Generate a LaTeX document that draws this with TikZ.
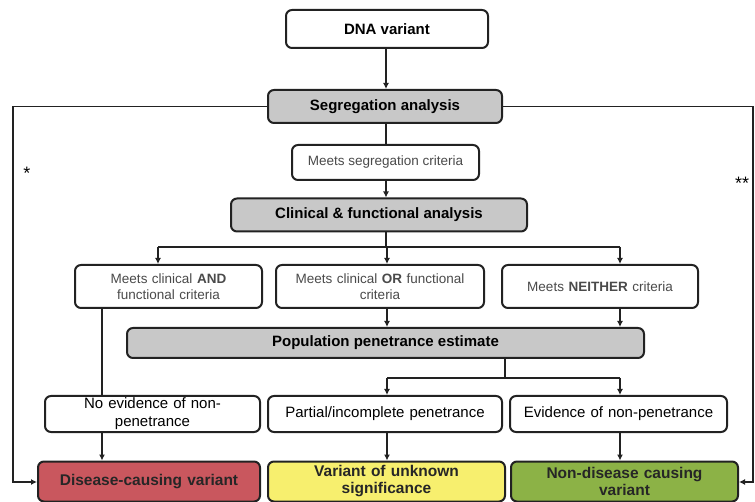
\documentclass[tikz,border=0pt]{standalone}
\usepackage{fontspec}
\setmainfont{Liberation Sans}
\usetikzlibrary{arrows.meta}
\definecolor{boxgray}{HTML}{C8C8C8}
\definecolor{vred}{HTML}{C9575E}
\definecolor{vyellow}{HTML}{F7EF6E}
\definecolor{vgreen}{HTML}{8CB246}
\definecolor{txtgray}{HTML}{4A4A4A}
\definecolor{linec}{HTML}{222222}
\tikzset{
  base/.style={draw=linec, line width=2pt, rounded corners=6pt, inner sep=0pt, align=center},
  bigbox/.style={base, fill=boxgray, font=\fontsize{15}{17}\selectfont\bfseries},
  topbox/.style={base, fill=white, font=\fontsize{15}{17}\selectfont\bfseries},
  smallbox/.style={base, fill=white, text=txtgray, font=\fontsize{13.5}{16}\selectfont},
  penbox/.style={base, fill=white, font=\fontsize{15}{18}\selectfont},
  outbox/.style={base, font=\fontsize{15.5}{17}\selectfont\bfseries, text=black!85},
  conn/.style={draw=linec, line width=1.8pt},
  arr/.style={conn, -{Latex[length=6pt,width=6pt]}},
}
\begin{document}
\begin{tikzpicture}[x=1pt,y=-1pt]
\useasboundingbox (0,0) rectangle (755,502);
% top chain
\node[topbox, minimum width=202, minimum height=38] (dna) at (387,29) {DNA variant};
\node[bigbox, minimum width=234, minimum height=33] (seg) at (385,106.5) {Segregation analysis};
\node[smallbox, minimum width=187, minimum height=35] (mseg) at (385.5,162.5) {Meets segregation criteria};
\node[bigbox, minimum width=296, minimum height=33] (clin) at (379,215) {Clinical \& functional analysis};
% criteria row
\node[smallbox, minimum width=187, minimum height=43, text width=180] (c1) at (168.5,286.5) {Meets clinical \textbf{AND}\\functional criteria};
\node[smallbox, minimum width=208, minimum height=43, text width=200] (c2) at (380,286.5) {Meets clinical \textbf{OR} functional\\criteria};
\node[smallbox, minimum width=196, minimum height=43, text width=190] (c3) at (600,286.5) {Meets \textbf{NEITHER} criteria};
% population
\node[bigbox, minimum width=517, minimum height=30] (pop) at (385.5,343) {Population penetrance estimate};
% penetrance row
\node[penbox, minimum width=215, minimum height=36, text width=205] (p1) at (152.5,414) {No evidence of non-\\penetrance};
\node[penbox, minimum width=234, minimum height=36, text width=228] (p2) at (385,414) {Partial/incomplete penetrance};
\node[penbox, minimum width=217, minimum height=36, text width=212] (p3) at (618.5,414) {Evidence of non-penetrance};
% outcomes
\node[outbox, fill=vred, minimum width=222, minimum height=40, text width=215] (o1) at (149,481.5) {Disease-causing variant};
\node[outbox, fill=vyellow, minimum width=237, minimum height=40, text width=230] (o2) at (386.5,481.5) {Variant of unknown\\significance};
\node[outbox, fill=vgreen, minimum width=227, minimum height=40, text width=220] (o3) at (624.5,481.5) {Non-disease causing\\variant};
% asterisks
\node[font=\fontsize{18}{20}\selectfont] (s1) at (27,173) {*};
\node[font=\fontsize{18}{20}\selectfont] (s2) at (742,183) {**};
% coordinates
\coordinate (b1) at (386,247);
\coordinate (lt) at (13,106.5);
\coordinate (lb) at (13,482);
\coordinate (rt) at (753,106.5);
\coordinate (rb) at (753,482);
\coordinate (sp) at (505,378);
% connectors
\draw[arr] (dna.south -| 386,0) -- (seg.north -| 386,0);
\draw[conn] (seg.south -| 386,0) -- (mseg.north -| 386,0);
\draw[arr] (mseg.south -| 386,0) -- (clin.north -| 386,0);
\draw[conn] (clin.south -| 386,0) -- (b1);
\draw[conn] (b1 -| 158,0) -- (b1 -| 620,0);
\draw[arr] (b1 -| 158,0) -- (c1.north -| 158,0);
\draw[arr] (b1 -| 387,0) -- (c2.north -| 387,0);
\draw[arr] (b1 -| 620,0) -- (c3.north -| 620,0);
\draw[arr] (c2.south -| 387,0) -- (pop.north -| 387,0);
\draw[arr] (c3.south -| 620,0) -- (pop.north -| 620,0);
\draw[conn] (c1.south -| 102,0) -- (p1.north -| 102,0);
\draw[conn] (pop.south -| 505,0) -- (sp);
\draw[conn] (sp -| 387,0) -- (sp -| 620,0);
\draw[arr] (sp -| 387,0) -- (p2.north -| 387,0);
\draw[arr] (sp -| 620,0) -- (p3.north -| 620,0);
\draw[arr] (p1.south -| 102,0) -- (o1.north -| 102,0);
\draw[arr] (p2.south -| 387,0) -- (o2.north -| 387,0);
\draw[arr] (p3.south -| 620,0) -- (o3.north -| 620,0);
\draw[arr] (seg.west) -- (lt) -- (lb) -- (lb -| o1.west);
\draw[arr] (seg.east) -- (rt) -- (rb) -- (rb -| o3.east);
\end{tikzpicture}
\end{document}
